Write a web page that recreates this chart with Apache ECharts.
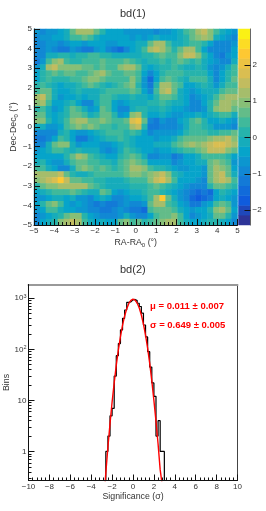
<!DOCTYPE html>
<html><head><meta charset="utf-8">
<style>html,body{margin:0;padding:0;background:#fff}#c{width:266px;height:511px}</style>
<script src="https://cdn.jsdelivr.net/npm/echarts@6/dist/echarts.min.js"></script>
</head><body><div id="c"></div>
<script>
// Heatmap columns and rows, indexed from the left and from the top (34 x 33 cells over +-5 degrees)
const colCount = 34;
const rowCount = 33;
// Significance, in tenths of a sigma, one row per Dec cell from top to bottom
const significanceTenths = [
[-7,-8,-7,-6,-3,0,6,12,13,12,7,1,-3,-4,-5,-6,-6,-7,-6,-7,-8,-7,-6,-4,-2,3,8,13,14,10,3,-2,-5,-7],
[-8,-7,-6,-5,-3,-1,3,5,6,3,0,-3,-3,-4,-5,-5,-6,-5,-6,-4,-2,-5,-4,-4,-2,2,6,10,11,9,0,-5,-7,-8],
[-9,-8,-6,-6,-8,-7,-4,-5,-6,-5,-5,-4,-6,-6,-3,-4,-4,-2,-1,6,12,13,5,-1,-2,1,3,4,2,-4,-8,-9,-8,-6],
[-8,-9,-7,-10,-12,-11,-7,-9,-13,-12,-7,-5,-8,-11,-16,-9,-3,-2,3,12,15,12,6,2,7,12,12,4,-4,-9,-10,-9,-8,-5],
[-10,-8,-2,0,1,2,-1,1,2,3,4,2,1,0,-2,-1,-2,0,1,2,5,7,3,5,10,15,14,9,1,-5,-9,-11,-7,-4],
[-11,-6,4,9,13,3,1,2,3,5,3,6,4,5,3,7,5,1,-1,1,1,3,1,4,6,5,2,3,-1,-4,-7,-10,-8,-2],
[-7,0,12,15,9,9,10,10,7,6,5,8,5,3,9,12,12,6,0,-3,-1,1,1,3,2,0,-1,1,-2,-6,-8,-7,-2,3],
[-3,1,5,6,5,6,7,5,5,8,10,11,8,4,3,7,8,5,-3,-9,-3,2,4,4,3,1,1,2,1,-4,-9,-5,1,5],
[-5,1,3,1,2,1,3,5,8,9,9,7,4,3,4,4,9,3,-6,-14,-4,4,6,5,2,0,3,5,4,-2,-8,-3,2,6],
[2,4,1,-1,-3,-2,0,2,4,6,4,2,-1,2,5,7,10,2,-6,-13,2,11,12,8,3,-3,-4,0,2,-2,-6,0,5,5],
[4,7,6,0,-4,-3,-2,1,0,-1,-2,1,3,5,3,4,7,5,-3,-8,3,11,14,7,0,-4,-7,-4,-1,-2,-2,3,7,8],
[13,14,8,-1,-6,-5,-3,-2,-4,-2,0,5,4,1,-2,0,2,0,-2,-4,1,6,8,3,-2,-5,-8,-7,-3,0,4,9,13,11],
[10,12,4,-3,-5,-1,1,-3,-9,-8,-2,5,3,-4,-7,-5,-1,-1,0,1,2,3,2,0,-2,-5,-8,-8,-4,2,8,13,12,10],
[2,5,-1,-6,-5,1,8,5,-2,-6,-3,6,5,-3,-8,-9,-1,2,1,-1,0,1,-1,-3,-5,-7,-8,-9,-6,1,9,12,11,8],
[8,7,0,-5,-2,2,6,7,4,-1,1,7,7,2,-6,-4,9,13,1,-4,-3,-2,-5,-6,-7,-4,-3,-1,-3,-2,2,5,3,0],
[10,9,2,-3,0,5,9,12,11,8,7,9,8,5,3,8,17,20,8,-9,-12,-7,-8,-9,-5,-1,5,6,1,-4,-4,-2,-4,-6],
[0,-2,-6,-7,-3,4,7,9,8,9,7,5,3,2,3,5,13,15,2,-11,-13,-10,-9,-10,-7,-2,4,5,2,-2,-6,-6,-7,-8],
[-9,-10,-10,-8,-2,2,-5,-7,-6,-4,-1,2,3,3,3,2,3,1,-4,-8,-7,-6,-7,-6,-3,1,4,5,3,2,2,5,4,6],
[-11,-12,-9,-3,3,2,-4,-13,-12,-7,-3,-2,1,2,3,2,-1,-3,-4,-5,-6,-5,-3,-1,3,6,6,7,8,10,11,12,15,10],
[-9,-8,-2,6,9,9,0,-6,-5,-4,-3,-6,-7,-3,0,2,-1,-4,-4,-3,-2,-2,-1,3,7,9,11,10,12,14,17,18,15,12],
[-7,-5,0,3,5,1,0,1,-1,0,-1,-6,-8,-6,0,3,2,-1,-3,-4,-7,-5,-4,-1,2,3,5,6,9,14,15,14,10,8],
[-3,-3,-4,-5,-4,1,6,11,9,4,2,0,-4,-3,1,4,6,3,-1,-9,-10,-6,-7,-11,-9,-5,-3,-1,3,5,4,4,1,-5],
[0,1,-3,-6,-7,-1,3,6,7,5,3,2,1,0,3,6,9,7,3,-3,-5,-3,-4,-8,-7,-5,-3,-2,-1,7,9,8,3,-6],
[5,3,-1,-5,-8,-8,-2,8,10,6,5,6,3,2,4,7,13,13,9,4,1,2,-1,-5,-6,-6,-5,-4,-6,6,11,10,6,-4],
[11,12,12,13,14,7,2,-1,-2,1,3,5,5,5,5,6,9,10,8,10,13,14,9,2,-2,-3,-3,-4,-7,8,13,14,8,-2],
[9,12,15,18,24,15,8,7,5,3,2,1,0,-1,0,1,3,4,5,9,15,17,12,3,-4,-5,-5,-7,-8,7,12,14,12,5],
[2,6,9,9,11,11,12,13,12,8,3,1,-1,-2,-2,-1,1,2,2,3,6,5,2,-2,-5,-7,-9,-9,-10,1,7,8,5,1],
[-3,-1,1,3,3,4,6,3,1,-2,0,7,4,-4,-6,-4,-2,-1,2,5,4,2,-1,-4,-7,-9,-13,-14,-11,-14,-3,1,-1,-5],
[-6,-6,-5,-2,-1,-4,-1,-6,-7,-8,-5,-1,-3,-8,-10,-7,-4,-3,-2,3,12,24,7,-2,-6,-9,-15,-17,-14,-12,-4,-1,-3,-7],
[-5,1,7,9,3,-4,-6,-5,-7,-9,-11,-10,-12,-12,-8,-7,-10,-9,-6,6,11,12,5,1,-3,-7,-12,-11,-7,-3,5,8,4,-6],
[-7,-3,3,5,-1,-3,-4,-6,-7,-9,-10,-12,-11,-8,-6,-9,-12,-13,-14,3,8,6,6,4,-1,-5,-7,-5,-3,2,10,13,7,-5],
[-9,-7,-5,-1,1,6,10,9,2,-3,-6,-8,-9,-10,-7,-2,-7,-8,-9,-4,4,7,8,9,3,-4,-8,-7,-4,0,6,8,2,-6],
[-8,-5,-2,2,9,12,14,13,5,-1,-3,-2,-5,-3,6,10,3,8,2,3,6,9,12,11,4,-2,-5,-3,-1,1,2,-2,-5,-9]
];
// Colour bar
const zMin = -2.41, zMax = 2.99, bandCount = 20;
const colorbarTicks = [-2,-1,0,1,2];
const birdStops = [[53,42,135],[15,92,221],[20,129,214],[6,164,202],[46,183,164],[135,191,119],[209,187,89],[254,200,50],[249,251,14]];
// Histogram
const binEdges = [-2.6,-2.4,-2.2,-2,-1.8,-1.6,-1.4,-1.2,-1,-.8,-.6,-.4,-.2,0,.2,.4,.6,.8,1,1.2,1.4,1.6,1.8,2,2.2,2.4,2.6,2.8,3];
const binCounts = [1,2,5,7,30,75,130,240,405,590,835,850,930,950,900,800,690,510,300,175,90,45,22,12,2,4,1,1];
const fitX = [-2.7,-2.6,-2.4,-2.2,-2,-1.8,-1.6,-1.4,-1.2,-1,-.8,-.6,-.4,-.2,0,.2,.4,.6,.8,1,1.2,1.4,1.6,1.8,2,2.2,2.4,2.6,2.75,2.85];
const fitY = [.2,.385,1.22,3.5,9.3,22,49,98,178,297,451,626,791,912,960,921,807,645,470,312,190,105,53,24,10,3.9,1.4,.44,.26,.18];
const logMajor = [1,10,100,1000];
const logMinor = [.3,.4,.5,.6,.7,.8,.9,2,3,4,5,6,7,8,9,20,30,40,50,60,70,80,90,200,300,400,500,600,700,800,900];
const histYMin = 0.27, histYMax = 1862;

const FONT = '"Liberation Sans", Arial, sans-serif', INK = '#333';
const bandW = (zMax - zMin) / bandCount;
function bird(t){const p=t*(birdStops.length-1),i=Math.min(Math.floor(p),birdStops.length-2),f=p-i;
  const c=birdStops[i].map((v,k)=>Math.round(v+(birdStops[i+1][k]-v)*f));return `rgb(${c})`;}
const pieces=[];const bandData=[];const bandCats=[];
for(let i=0;i<bandCount;i++){const lo=zMin+i*bandW;
  pieces.push({gte:i?lo:-99,lt:i===bandCount-1?99:lo+bandW,color:bird((i+.5)/bandCount)});
  bandCats.push(String(i));bandData.push([0,i,lo+bandW/2]);}
const heat=[];significanceTenths.forEach((row,r)=>row.forEach((v,c)=>heat.push([c,rowCount-1-r,v/10])));
const colCats=Array.from({length:colCount},(_,i)=>String(i));
const rowCats=Array.from({length:rowCount},(_,i)=>String(i));

const lab={color:INK,fontSize:8,fontFamily:FONT};
const hiddenCat=(g,data)=>({type:'category',gridIndex:g,data,show:false});
const minus=v=>String(v).replace('-','\u2212');
const axisLine={show:true,onZero:false,lineStyle:{color:'#111',width:1}};
const tick={show:true,inside:true,length:6,lineStyle:{color:'#111',width:1}};
const minorT={show:true,splitNumber:5,length:3,lineStyle:{color:'#111',width:1}};
const valueAxis=(g,pos,min,max,interval,name,nameGap,extra)=>({type:'value',gridIndex:g,position:pos,min,max,interval,z:5,
  axisLine,axisTick:tick,minorTick:minorT,splitLine:{show:false},minorSplitLine:{show:false},
  axisLabel:{...lab,margin:2,showMinLabel:true,showMaxLabel:true,hideOverlap:false,formatter:minus},
  name,nameLocation:'middle',nameGap,nameTextStyle:{color:INK,fontSize:8.8,fontFamily:FONT,
    rich:{s:{fontSize:6,fontFamily:FONT,color:INK,verticalAlign:'bottom',padding:[5,0,0,0]}}},...extra});
const sup=v=>v===1?'1':v===10?'10':`10{u|${Math.round(Math.log10(v))}}`;

const option={
  animation:false,
  title:[
    {text:'bd(1)',left:115,top:3,textStyle:{fontSize:11,fontWeight:'normal',color:INK,fontFamily:FONT}},
    {text:'bd(2)',left:115,top:259,textStyle:{fontSize:11,fontWeight:'normal',color:INK,fontFamily:FONT}}
  ],
  grid:[
    {left:34,top:29,width:203.5,height:196,outerBoundsMode:'none'},
    {left:238.5,top:29,width:12,height:196,outerBoundsMode:'none'},
    {left:28.5,top:284.5,width:209,height:196,outerBoundsMode:'none'}
  ],
  visualMap:{show:false,type:'piecewise',seriesIndex:[0,1],dimension:2,pieces},
  xAxis:[
    hiddenCat(0,colCats),
    valueAxis(0,'bottom',-5,5,1,'RA-RA{s|0} (\u00b0)',12),
    hiddenCat(1,['c']),
    valueAxis(2,'bottom',-10,10,2,'Significance (\u03c3)',12),
    {type:'value',gridIndex:2,position:'top',min:-10,max:10,axisLine:{show:true,onZero:false,lineStyle:{color:'#999',width:2}},axisTick:{show:false},axisLabel:{show:false},splitLine:{show:false}}
  ],
  yAxis:[
    hiddenCat(0,rowCats),
    valueAxis(0,'left',-5,5,1,'Dec-Dec{s|0} (\u00b0)',15,{nameMoveOverlap:false}),
    hiddenCat(1,bandCats),
    {type:'value',gridIndex:1,position:'right',min:zMin,max:zMax,z:5,
      axisLine:{show:true,onZero:false,lineStyle:{color:'#666',width:1}},
      axisTick:{show:true,inside:true,length:6,customValues:colorbarTicks,lineStyle:{color:'#111'}},
      axisLabel:{...lab,margin:2,customValues:colorbarTicks,formatter:minus},splitLine:{show:false}},
    {type:'log',gridIndex:2,position:'left',logBase:10,min:histYMin,max:histYMax,z:5,
      axisLine,axisTick:{...tick,customValues:logMajor},
      axisLabel:{...lab,margin:2,customValues:logMajor,formatter:v=>sup(v),rich:{u:{fontSize:5.5,fontFamily:FONT,color:INK,verticalAlign:'top',padding:[0,0,4,0]}}},
      splitLine:{show:false},minorTick:{show:false},
      name:'Bins',nameLocation:'middle',nameGap:17,nameMoveOverlap:false,nameTextStyle:{color:INK,fontSize:8.8,fontFamily:FONT}},
    {type:'log',gridIndex:2,position:'left',logBase:10,min:histYMin,max:histYMax,z:5,
      axisLine:{show:false,onZero:false},axisTick:{show:true,inside:true,length:3,customValues:logMinor,lineStyle:{color:'#111'}},
      axisLabel:{show:false},splitLine:{show:false}},
    {type:'log',gridIndex:2,position:'right',logBase:10,min:histYMin,max:histYMax,
      axisLine:{show:true,onZero:false,lineStyle:{color:'#444',width:1}},axisTick:{show:false},axisLabel:{show:false},splitLine:{show:false}}
  ],
  series:[
    {type:'heatmap',xAxisIndex:0,yAxisIndex:0,data:heat,progressive:0},
    {type:'heatmap',xAxisIndex:2,yAxisIndex:2,data:bandData},
    {type:'line',xAxisIndex:3,yAxisIndex:4,step:'end',symbol:'none',clip:true,z:3,
      lineStyle:{color:'#000',width:1.2},
      data:[[binEdges[0],histYMin]].concat(binCounts.map((v,i)=>[binEdges[i],v]),[[binEdges[binEdges.length-1],binCounts[binCounts.length-1]],[binEdges[binEdges.length-1],histYMin]])},
    {type:'line',xAxisIndex:3,yAxisIndex:4,symbol:'none',clip:true,z:4,
      lineStyle:{color:'#f00',width:1.4},data:fitX.map((x,i)=>[x,fitY[i]])}
  ],
  graphic:[
    {type:'text',left:150,top:301,style:{text:'\u03bc = 0.011 \u00b1 0.007',fill:'#f00',font:'bold 9.5px '+FONT}},
    {type:'text',left:150,top:320,style:{text:'\u03c3 = 0.649 \u00b1 0.005',fill:'#f00',font:'bold 9.5px '+FONT}}
  ]
};
echarts.init(document.getElementById('c'),null,{renderer:'canvas'}).setOption(option);
</script></body></html>
